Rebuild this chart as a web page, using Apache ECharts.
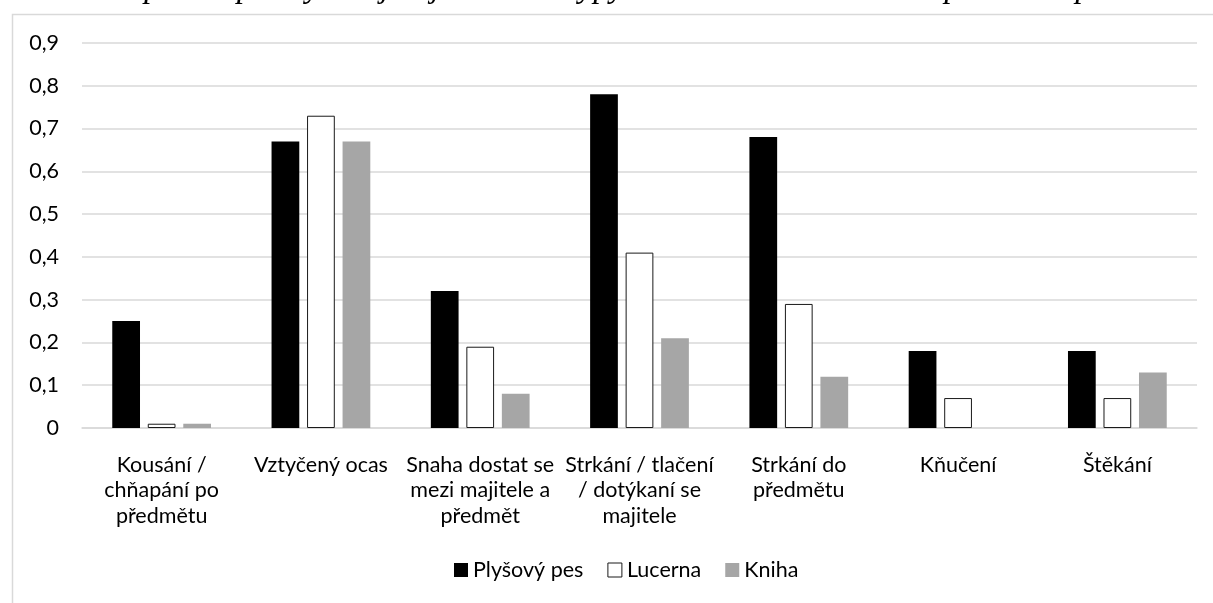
<!DOCTYPE html>
<html>
<head>
<meta charset="utf-8">
<script src="https://cdn.jsdelivr.net/npm/echarts@6/dist/echarts.min.js"></script>
<style>
html,body{margin:0;padding:0;background:#fff;}
#c{width:1213px;height:603px;}
</style>
</head>
<body>
<div id="c"></div>
<script>
const titleText = "Porovnání podílu psů vykazující jednotlivé typy chování v rámci 2. a 3. pokusu experimentu";
const categories = [
  "Kousání /\nchňapání po\npředmětu",
  "Vztyčený ocas",
  "Snaha dostat se\nmezi majitele a\npředmět",
  "Strkání / tlačení\n/ dotýkaní se\nmajitele",
  "Strkání do\npředmětu",
  "Kňučení",
  "Štěkání"
];
const seriesNames = ["Plyšový pes", "Lucerna", "Kniha"];
const plysovyPes = [0.25, 0.67, 0.32, 0.78, 0.68, 0.18, 0.18];
const lucerna = [0.01, 0.73, 0.19, 0.41, 0.29, 0.07, 0.07];
const kniha = [0.01, 0.67, 0.08, 0.21, 0.12, 0, 0.13];
const yTicks = [0, 0.1, 0.2, 0.3, 0.4, 0.5, 0.6, 0.7, 0.8, 0.9];

const font = "Lato, 'Open Sans', sans-serif";
const fs = 21.5;
const chart = echarts.init(document.getElementById('c'), null, {renderer: 'canvas'});
const styles = [
  {color: '#000000', borderColor: '#000000', borderWidth: 0},
  {color: '#ffffff', borderColor: '#1a1a1a', borderWidth: 1},
  {color: '#a6a6a6', borderColor: '#a6a6a6', borderWidth: 0}
];
const data = [plysovyPes, lucerna, kniha];
chart.setOption({
  animation: false,
  backgroundColor: '#ffffff',
  graphic: [
    {type: 'rect', shape: {x: 12.5, y: 14.5, width: 1300, height: 700}, style: {fill: 'none', stroke: '#d9d9d9', lineWidth: 1.5}, z: 0},
    {type: 'text', left: -2, top: -28, style: {text: titleText, font: "italic 33px 'Liberation Serif', 'DejaVu Serif', serif", fill: '#000'}, z: 10}
  ],
  grid: {left: 82, right: 16, top: 43, bottom: 175, containLabel: false},
  legend: {
    data: seriesNames.map((n, i) => ({name: n, itemStyle: styles[i]})),
    bottom: 17, left: 449,
    icon: 'rect', itemWidth: 14, itemHeight: 14, itemGap: 24,
    textStyle: {fontFamily: font, fontSize: fs, color: '#000', padding: [0, 0, 0, 0]}
  },
  xAxis: {
    type: 'category', data: categories,
    axisLine: {lineStyle: {color: '#d9d9d9', width: 1.5}},
    axisTick: {show: false},
    axisLabel: {fontFamily: font, fontSize: fs, color: '#000', lineHeight: 25.5, margin: 24, interval: 0}
  },
  yAxis: {
    type: 'value', min: yTicks[0], max: yTicks[yTicks.length - 1], interval: 0.1,
    axisLine: {show: false}, axisTick: {show: false},
    splitLine: {lineStyle: {color: '#d9d9d9', width: 1.5}},
    axisLabel: {fontFamily: font, fontSize: fs, color: '#000', margin: 23,
      formatter: v => { const r = Math.round(v * 10) / 10; return r === 0 ? '0' : String(r).replace('.', ','); }}
  },
  series: seriesNames.map((n, i) => ({
    name: n, type: 'bar', data: data[i],
    itemStyle: styles[i],
    barGap: '28%', barCategoryGap: '38%'
  }))
});
</script>
</body>
</html>
